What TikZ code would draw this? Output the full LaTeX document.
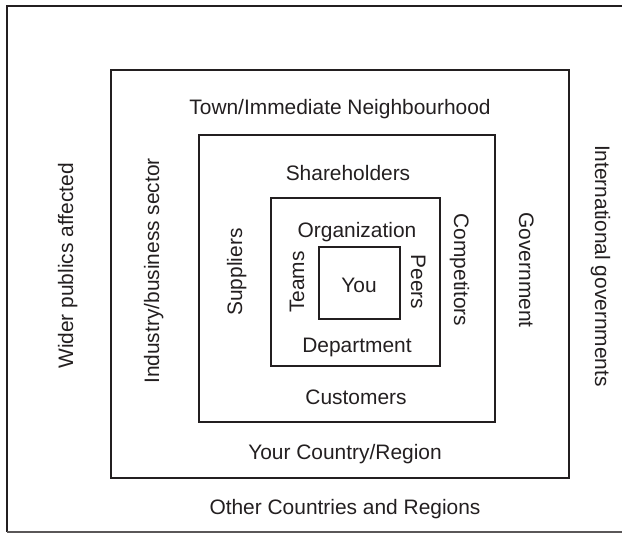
\documentclass[tikz,border=0pt]{standalone}
\usepackage{fontspec}
\setmainfont{Liberation Sans}
\definecolor{ink}{HTML}{231F20}
\begin{document}
\begin{tikzpicture}[x=1bp,y=-1bp,
  box/.style={draw=ink,line width=2bp,rectangle,inner sep=0pt},
  lbl/.style={text=ink,inner sep=0pt,anchor=base,font=\fontsize{21}{25}\selectfont},
  up/.style={lbl,rotate=90},
  down/.style={lbl,rotate=-90}]
\useasboundingbox (0,0) rectangle (622,534);
% outer open frame
\coordinate (o1) at (622,6);
\coordinate (o2) at (7,6);
\coordinate (o3) at (7,532);
\coordinate (o4) at (622,532);
\draw[ink,line width=2bp] (o1) -- (o2) -- (o3);
\draw[ink!75,line width=1.2bp] (o3) -- (o4);
% nested boxes
\node[box,minimum width=458bp,minimum height=408bp] (b2) at (340,274) {};
\node[box,minimum width=296bp,minimum height=287bp] (b3) at (347,278.5) {};
\node[box,minimum width=169bp,minimum height=168bp] (b4) at (355.5,282) {};
\node[box,minimum width=81bp,minimum height=72bp] (b5) at (359.5,283) {};
% horizontal labels
\node[lbl] (town) at (340,115) {Town/Immediate Neighbourhood};
\node[lbl] (share) at (348,180.5) {Shareholders};
\node[lbl] (org) at (357,237.5) {Organization};
\node[lbl] (you) at (359,292.5) {You};
\node[lbl] (dept) at (357,352.5) {Department};
\node[lbl] (cust) at (356,404.5) {Customers};
\node[lbl] (country) at (345,459.5) {Your Country/Region};
\node[lbl] (other) at (345,514) {Other Countries and Regions};
% vertical labels, reading upward
\node[up] (wider) at (73,266) {Wider publics affected};
\node[up] (industry) at (159,271) {Industry/business sector};
\node[up] (supp) at (242,272) {Suppliers};
\node[up] (teams) at (304,282) {Teams};
% vertical labels, reading downward
\node[down] (peers) at (411,282) {Peers};
\node[down] (comp) at (454,270) {Competitors};
\node[down] (gov) at (519,270) {Government};
\node[down] (intl) at (595,266) {International governments};
\end{tikzpicture}
\end{document}
